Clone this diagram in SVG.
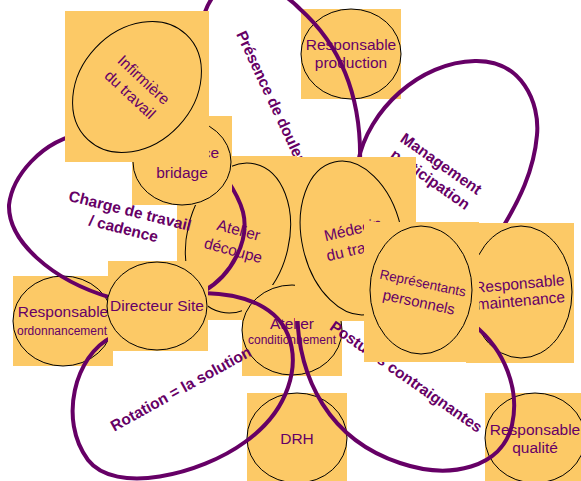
<svg xmlns="http://www.w3.org/2000/svg" width="581" height="481" viewBox="0 0 581 481">
<style>
.bg{fill:#FCC966;stroke:none}
.el{fill:#FCC966;stroke:#000;stroke-width:1}
.nt{font-family:"Liberation Sans",Arial,sans-serif;font-size:15.5px;fill:#660066;text-anchor:middle}
.sm{font-size:12px}
.lb{font-family:"Liberation Sans",Arial,sans-serif;font-size:15.5px;font-weight:bold;fill:#660066;text-anchor:middle}
.loop{fill:none;stroke:#660066;stroke-width:4;stroke-linecap:butt}
</style>
<rect width="581" height="481" fill="#fff"/>

<g id="node-production">
<rect class="bg" x="301" y="9" width="100" height="90"/>
<ellipse class="el" cx="351" cy="54" rx="50" ry="45"/>
<text class="nt" x="351" y="50">Responsable</text>
<text class="nt" x="351" y="68">production</text>
</g>

<g id="connectors-back" class="connectors">
<path class="loop" d="M358,162 C368,110 420,62 475,61 C522,60 540,103 537,135 C534,170 520,200 498,235"/>
<path class="loop" d="M360,164 C362,95 340,45 300,9 C272,-20 222,-35 205,12 L195,40"/>
</g>

<g id="label-presence"><text class="lb" style="text-anchor:start" transform="translate(236,34) rotate(65)">Présence de douleur</text></g>
<g id="label-management" transform="translate(441,164) rotate(35)">
<text class="lb" x="0" y="5">Management</text>
<text class="lb" x="0" y="24">participation</text>
</g>

<g id="node-ordonnancement">
<rect class="bg" x="13" y="276" width="100" height="90"/>
<ellipse class="el" cx="63" cy="321" rx="50" ry="45"/>
<text class="nt" x="63" y="317">Responsable</text>
<text class="nt sm" x="62" y="335">ordonnancement</text>
</g>

<g id="node-decoupe">
<rect class="bg" x="177" y="156" width="120" height="164"/>
<ellipse class="el" cx="0" cy="0" rx="51" ry="76" transform="translate(238,238) rotate(13)"/>
<g transform="translate(236,240) rotate(15)">
<text class="nt" x="0" y="-5">Atelier</text>
<text class="nt" x="0" y="16">découpe</text>
</g>
</g>

<g id="connectors-charge" class="connectors">
<path class="loop" d="M85,133 C40,140 12,178 9,205 C8,240 50,280 112,298"/>
<path class="loop" d="M204,291 C232,275 250,240 243,212 C240,200 234,190 226,178"/>
</g>

<g id="label-charge" transform="translate(130,211) rotate(14)">
<text class="lb" x="0" y="5">Charge de travail</text>
<text class="lb" x="-2" y="24">/ cadence</text>
</g>

<g id="node-bridage">
<rect class="bg" x="132" y="116" width="100" height="89"/>
<ellipse class="el" cx="182" cy="162" rx="49" ry="43"/>
<text class="nt" style="text-anchor:end" x="219" y="158">ce</text>
<text class="nt" x="182" y="178">bridage</text>
</g>

<g id="node-infirmiere">
<rect class="bg" x="65" y="11" width="144" height="151"/>
<g transform="translate(137,87) rotate(43)">
<ellipse class="el" cx="0" cy="0" rx="57" ry="72"/>
<text class="nt" x="0" y="-4.5">Infirmière</text>
<text class="nt" x="0" y="15.5">du travail</text>
</g>
</g>

<g id="node-drh">
<rect class="bg" x="247" y="393" width="100" height="90"/>
<ellipse class="el" cx="297" cy="438" rx="50" ry="45"/>
<text class="nt" x="297" y="444">DRH</text>
</g>

<g id="node-qualite">
<rect class="bg" x="485" y="393" width="100" height="90"/>
<ellipse class="el" cx="535" cy="438" rx="50" ry="45"/>
<text class="nt" x="535" y="435">Responsable</text>
<text class="nt" x="535" y="453">qualité</text>
</g>

<g id="node-conditionnement">
<rect class="bg" x="242" y="285" width="100" height="91"/>
<ellipse class="el" cx="292" cy="330" rx="50" ry="45"/>
<text class="nt" x="292" y="329">Atelier</text>
<text class="nt sm" x="292" y="344">conditionnement</text>
</g>

<g id="node-maintenance">
<rect class="bg" x="466" y="223" width="108" height="140"/>
<ellipse class="el" cx="521" cy="292" rx="51" ry="66"/>
<g transform="translate(520,292) rotate(-5)">
<text class="nt" x="0" y="-3">Responsable</text>
<text class="nt" x="0" y="14">maintenance</text>
</g>
</g>

<g id="connectors-mid" class="connectors">
<path class="loop" d="M112,337 C75,355 58,420 88,460 C115,495 200,475 245,442 C290,410 300,365 288,335 C278,310 250,294 204,293"/>
<path class="loop" d="M297,310 C298,380 330,440 400,463 C450,480 502,468 512,425 C520,390 505,350 474,325"/>
</g>

<g id="node-medecin">
<rect class="bg" x="295" y="157" width="121" height="164"/>
<ellipse class="el" cx="0" cy="0" rx="50" ry="78" transform="translate(352,238) rotate(-13)"/>
<g transform="translate(355,239) rotate(-13)">
<text class="nt" x="0" y="-4.5">Médecin</text>
<text class="nt" x="0" y="15.5">du travail</text>
</g>
</g>

<g id="label-rotation"><text class="lb" transform="translate(181,389) rotate(-29)" x="0" y="5">Rotation = la solution</text></g>
<g id="label-postures"><text class="lb" transform="translate(406,377) rotate(35)" x="0" y="5">Postures contraignantes</text></g>

<g id="node-representants">
<rect class="bg" x="364" y="222" width="115" height="140"/>
<ellipse class="el" cx="421" cy="290" rx="51" ry="64"/>
<g transform="translate(421,292) rotate(12)">
<text class="nt" style="font-size:13.5px" x="0" y="-4.5">Représentants</text>
<text class="nt" style="font-size:15px" x="0" y="15.5">personnels</text>
</g>
</g>

<g id="node-directeur">
<rect class="bg" x="108" y="261" width="100" height="90"/>
<ellipse class="el" cx="157" cy="306" rx="50" ry="44"/>
<text class="nt" x="157" y="311">Directeur Site</text>
</g>
</svg>
